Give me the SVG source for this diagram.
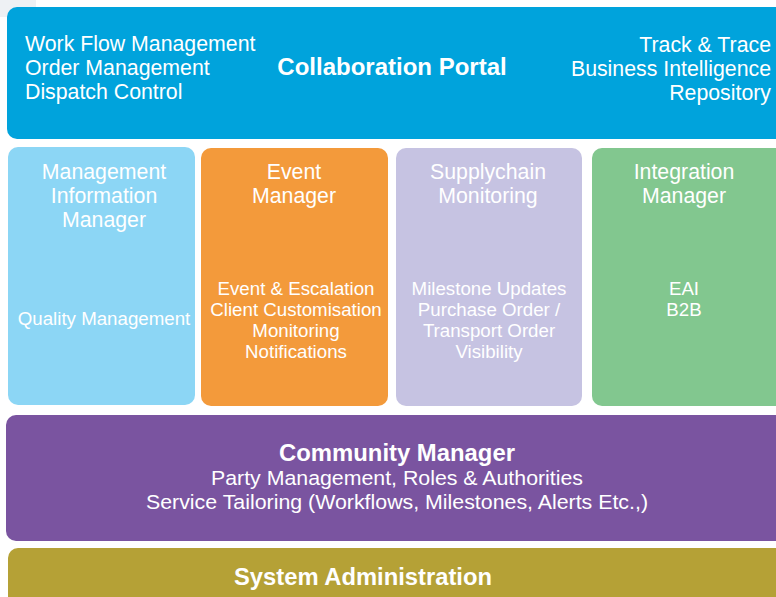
<svg xmlns="http://www.w3.org/2000/svg" width="776" height="597" viewBox="0 0 776 597">
<style>
text{font-family:"Liberation Sans",Arial,sans-serif;fill:#fff}
.h{font-size:21.3px;text-anchor:middle}
.b{font-size:18.7px;text-anchor:middle}
.t{font-size:21.3px}
.bold{font-weight:bold}
</style>
<rect x="0" y="0" width="776" height="597" fill="#fff"/>
<rect x="0" y="0" width="36" height="17" fill="#eef1f4"/>
<g id="portal">
<rect x="7" y="7" width="785" height="132" rx="10" fill="#00a3dc"/>
<text class="t" x="25" y="51">Work Flow Management</text>
<text class="t" x="25" y="75">Order Management</text>
<text class="t" x="25" y="99">Dispatch Control</text>
<text class="bold" x="392" y="75" font-size="24" text-anchor="middle">Collaboration Portal</text>
<text class="t" x="771" y="52" text-anchor="end">Track &amp; Trace</text>
<text class="t" x="771" y="76" text-anchor="end">Business Intelligence</text>
<text class="t" x="771" y="100" text-anchor="end">Repository</text>
</g>
<g id="mim">
<rect x="8" y="147" width="187" height="258" rx="10" fill="#8cd6f5"/>
<text class="h" x="104" y="179">Management</text>
<text class="h" x="104" y="203">Information</text>
<text class="h" x="104" y="227">Manager</text>
<text class="b" x="104" y="325">Quality Management</text>
</g>
<g id="event">
<rect x="201" y="148" width="187" height="258" rx="10" fill="#f39a3b"/>
<text class="h" x="294" y="179">Event</text>
<text class="h" x="294" y="203">Manager</text>
<text class="b" x="296" y="295">Event &amp; Escalation</text>
<text class="b" x="296" y="316">Client Customisation</text>
<text class="b" x="296" y="337">Monitoring</text>
<text class="b" x="296" y="358">Notifications</text>
</g>
<g id="supply">
<rect x="396" y="148" width="186" height="258" rx="10" fill="#c6c3e2"/>
<text class="h" x="488" y="179">Supplychain</text>
<text class="h" x="488" y="203">Monitoring</text>
<text class="b" x="489" y="295">Milestone Updates</text>
<text class="b" x="489" y="316">Purchase Order /</text>
<text class="b" x="489" y="337">Transport Order</text>
<text class="b" x="489" y="358">Visibility</text>
</g>
<g id="integration">
<rect x="592" y="148" width="194" height="258" rx="10" fill="#82c78f"/>
<text class="h" x="684" y="179">Integration</text>
<text class="h" x="684" y="203">Manager</text>
<text class="b" x="684" y="295">EAI</text>
<text class="b" x="684" y="316">B2B</text>
</g>
<g id="community">
<rect x="6" y="415" width="790" height="126" rx="10" fill="#7a54a0"/>
<text class="bold" x="397" y="461" font-size="23" text-anchor="middle" textLength="236" lengthAdjust="spacingAndGlyphs">Community Manager</text>
<text x="397" y="485" font-size="20.5" text-anchor="middle" textLength="372" lengthAdjust="spacingAndGlyphs">Party Management, Roles &amp; Authorities</text>
<text x="397" y="509" font-size="20.5" text-anchor="middle" textLength="502" lengthAdjust="spacingAndGlyphs">Service Tailoring (Workflows, Milestones, Alerts Etc.,)</text>
</g>
<g id="sysadmin">
<rect x="8" y="548" width="790" height="70" rx="10" fill="#b5a136"/>
<text class="bold" x="363" y="585" font-size="23" text-anchor="middle" textLength="258" lengthAdjust="spacingAndGlyphs">System Administration</text>
</g>
<g id="connectors"/>
</svg>
